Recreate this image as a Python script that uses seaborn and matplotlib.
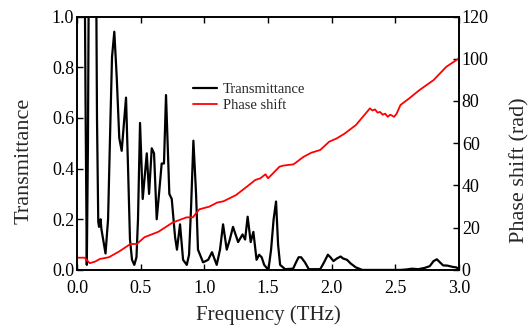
import matplotlib
matplotlib.use("Agg")
import matplotlib.pyplot as plt
import seaborn as sns
import pandas as pd

# Transmittance (left axis)
freq_T = [0.0, 0.059, 0.068, 0.077, 0.086, 0.094, 0.149, 0.157, 0.167, 0.173, 0.185, 0.192,
          0.224, 0.244, 0.263, 0.275, 0.293, 0.312, 0.332, 0.351, 0.385, 0.401, 0.416, 0.432,
          0.45, 0.467, 0.479, 0.495, 0.516, 0.548, 0.566, 0.587, 0.605, 0.626, 0.644, 0.665,
          0.683, 0.699, 0.725, 0.744, 0.77, 0.785, 0.809, 0.833, 0.862, 0.88, 0.896, 0.914,
          0.935, 0.95, 0.99, 1.03, 1.06, 1.097, 1.123, 1.147, 1.176, 1.20, 1.225, 1.265,
          1.30, 1.32, 1.34, 1.364, 1.385, 1.41, 1.43, 1.45, 1.47, 1.503, 1.524, 1.544,
          1.563, 1.579, 1.595, 1.634, 1.697, 1.72, 1.74, 1.76, 1.79, 1.82, 1.91, 1.94,
          1.97, 1.99, 2.014, 2.04, 2.07, 2.09, 2.12, 2.15, 2.19, 2.24, 2.54, 2.59,
          2.63, 2.68, 2.73, 2.77, 2.80, 2.826, 2.85, 2.875, 2.91, 2.95, 2.98, 3.0]
trans = [1.3, 1.3, 0.6, 0.02, 0.5, 1.3, 1.3, 0.6, 0.19, 0.17, 0.20, 0.16,
         0.065, 0.2, 0.6, 0.84, 0.94, 0.76, 0.52, 0.47, 0.68, 0.4, 0.12, 0.04,
         0.02, 0.05, 0.2, 0.58, 0.28, 0.46, 0.3, 0.48, 0.46, 0.2, 0.3, 0.42,
         0.42, 0.69, 0.3, 0.28, 0.13, 0.08, 0.18, 0.04, 0.02, 0.06, 0.25, 0.51,
         0.3, 0.08, 0.03, 0.04, 0.07, 0.02, 0.08, 0.18, 0.08, 0.12, 0.17, 0.11,
         0.14, 0.12, 0.21, 0.11, 0.15, 0.04, 0.06, 0.05, 0.02, 0.0, 0.08, 0.2,
         0.27, 0.1, 0.02, 0.003, 0.005, 0.03, 0.05, 0.05, 0.03, 0.003, 0.003, 0.03,
         0.06, 0.05, 0.035, 0.045, 0.053, 0.045, 0.04, 0.025, 0.01, 0.0, 0.0, 0.002,
         0.005, 0.003, 0.008, 0.015, 0.035, 0.042, 0.03, 0.018, 0.017, 0.012, 0.01, 0.0]

# Phase shift (right axis)
freq_P = [0.0, 0.06, 0.1, 0.14, 0.18, 0.25, 0.33, 0.42, 0.47, 0.53, 0.64, 0.75, 0.86,
          0.91, 0.96, 1.04, 1.10, 1.15, 1.25, 1.35, 1.40, 1.44, 1.48, 1.50, 1.54, 1.59,
          1.62, 1.70, 1.78, 1.84, 1.91, 1.98, 2.04, 2.10, 2.19, 2.30, 2.32, 2.34, 2.36,
          2.38, 2.40, 2.42, 2.44, 2.46, 2.49, 2.51, 2.54, 2.61, 2.69, 2.80, 2.90, 3.0]
phase = [5.8, 5.8, 3.2, 3.9, 5.2, 6.0, 8.7, 12.3, 12.3, 15.5, 18.1, 22.4, 24.9,
         24.9, 28.7, 30.0, 31.9, 32.5, 35.5, 40.2, 42.6, 43.4, 45.3, 43.4, 45.8, 48.9,
         49.4, 50.0, 53.6, 55.5, 56.8, 60.7, 62.3, 64.5, 68.6, 76.5, 75.5, 76.0, 74.5,
         74.8, 73.5, 74.0, 72.5, 73.5, 72.5, 74.0, 78.1, 81.3, 85.2, 89.9, 96.2, 100.2]

x_ticks = [0.0, 0.5, 1.0, 1.5, 2.0, 2.5, 3.0]
y_ticks = [0.0, 0.2, 0.4, 0.6, 0.8, 1.0]
y2_ticks = [0, 20, 40, 60, 80, 100, 120]

sns.set_style("ticks")
plt.rcParams['font.family'] = ['Liberation Serif', 'DejaVu Serif']
plt.rcParams['mathtext.fontset'] = 'stix'

fig = plt.figure(figsize=(5.31, 3.30), dpi=100)
ax = fig.add_axes([0.145, 0.182, 0.7195, 0.768])
ax2 = ax.twinx()

dfT = pd.DataFrame({"f": freq_T, "T": trans})
dfP = pd.DataFrame({"f": freq_P, "P": phase})

sns.lineplot(data=dfT, x="f", y="T", ax=ax, color="black", lw=1.6, label="Transmittance",
             legend=False)
sns.lineplot(data=dfP, x="f", y="P", ax=ax2, color="#ff0000", lw=1.3, label="Phase shift",
             legend=False)

ax.set_xlim(0, 3.0)
ax.set_ylim(0, 1.0)
ax2.set_ylim(0, 120)
ax.set_xticks(x_ticks)
ax.set_xticklabels([f"{v:.1f}" for v in x_ticks])
ax.set_yticks(y_ticks)
ax.set_yticklabels([f"{v:.1f}" for v in y_ticks])
ax2.set_yticks(y2_ticks)
ax2.set_yticklabels([str(v) for v in y2_ticks])

ax.set_xlabel("Frequency (THz)", fontsize=15, labelpad=6)
ax.set_ylabel("Transmittance", fontsize=16, labelpad=13)
ax2.set_ylabel("Phase shift (rad)", fontsize=16, labelpad=15)
ax.yaxis.label.set_y(0.43)
ax2.yaxis.label.set_y(0.395)

for a in (ax, ax2):
    for s in a.spines.values():
        s.set_linewidth(1.2)
        s.set_color("black")
    a.tick_params(direction="in", length=4, width=1.0, labelsize=13, colors="black", pad=2)
ax.tick_params(axis="x", top=True, pad=7.5)
ax.tick_params(axis="y", right=False)
ax2.tick_params(axis="y", left=False)

h1, l1 = ax.get_legend_handles_labels()
h2, l2 = ax2.get_legend_handles_labels()
leg = ax2.legend(h1 + h2, l1 + l2, loc="upper left", bbox_to_anchor=(0.288, 0.76),
                 frameon=False, fontsize=10.5, handlelength=1.65, handletextpad=0.4,
                 labelspacing=0.15, borderaxespad=0)

fig.savefig("out.png", dpi=100)
